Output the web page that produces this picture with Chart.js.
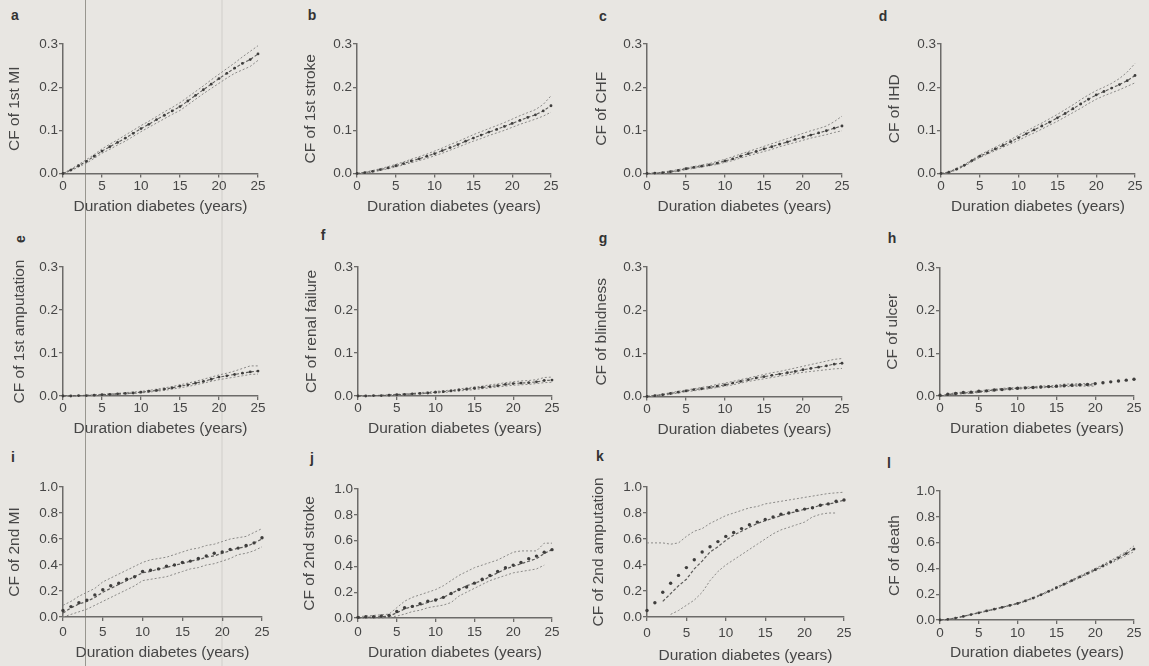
<!DOCTYPE html>
<html>
<head>
<meta charset="utf-8">
<script src="https://cdn.jsdelivr.net/npm/chart.js@4.4.0/dist/chart.umd.min.js"></script>
<style>
  body { margin: 0; width: 1149px; height: 666px; position: relative; overflow: hidden;
         background: #e8e6e2; font-family: "Liberation Sans", Arial, sans-serif; }
  canvas { position: absolute; }
  .lbl { position: absolute; font-weight: bold; font-size: 14px; color: #333; transform: translate(-50%, -50%); }
  .scan { position: absolute; top: 0; height: 666px; }
</style>
</head>
<body>
<div class="scan" style="left:85px;width:1px;background:#98968f"></div>
<div class="scan" style="left:221px;width:2px;background:#dcdad6"></div>
<script>
// x values (years since diagnosis) and axis labels
const years = [0,1,2,3,4,5,6,7,8,9,10,11,12,13,14,15,16,17,18,19,20,21,22,23,24,25];
const xTickLabels = ['0','5','10','15','20','25'];
const yTicksLow = ['0.0','0.1','0.2','0.3'];
const yTicksHigh = ['0.0','0.2','0.4','0.6','0.8','1.0'];
const xAxisTitle = 'Duration diabetes (years)';

// a - 1st MI
const aObs = [0,0.008,0.018,0.028,0.040,0.052,0.062,0.072,0.082,0.093,0.104,0.114,0.125,0.135,0.145,0.155,0.168,0.181,0.194,0.207,0.220,0.232,0.244,0.255,0.264,0.277];
const aUp  = [0,0.010,0.021,0.032,0.044,0.057,0.068,0.078,0.089,0.100,0.111,0.121,0.132,0.143,0.153,0.164,0.177,0.190,0.203,0.217,0.230,0.243,0.256,0.270,0.283,0.296];
const aLo  = [0,0.006,0.015,0.024,0.035,0.047,0.056,0.066,0.075,0.086,0.097,0.107,0.117,0.127,0.137,0.146,0.159,0.172,0.185,0.197,0.209,0.221,0.232,0.240,0.248,0.262];
// b - 1st stroke
const bObs = [0,0.002,0.005,0.009,0.013,0.018,0.023,0.029,0.034,0.040,0.046,0.053,0.060,0.067,0.075,0.082,0.089,0.096,0.102,0.109,0.116,0.123,0.130,0.136,0.145,0.157];
const bUp  = [0,0.003,0.007,0.011,0.016,0.021,0.027,0.033,0.039,0.045,0.052,0.059,0.067,0.074,0.082,0.090,0.097,0.104,0.111,0.118,0.126,0.134,0.141,0.148,0.160,0.180];
const bLo  = [0,0.001,0.003,0.007,0.011,0.015,0.020,0.025,0.030,0.035,0.041,0.047,0.054,0.061,0.068,0.075,0.081,0.088,0.094,0.100,0.107,0.114,0.120,0.126,0.133,0.142];
// c - CHF
const cObs = [0,0.001,0.002,0.004,0.007,0.011,0.014,0.017,0.020,0.024,0.029,0.034,0.040,0.046,0.051,0.057,0.062,0.068,0.073,0.079,0.084,0.089,0.094,0.099,0.105,0.110];
const cUp  = [0,0.001,0.003,0.006,0.009,0.013,0.016,0.020,0.023,0.028,0.033,0.039,0.045,0.051,0.057,0.063,0.069,0.075,0.081,0.087,0.093,0.099,0.104,0.110,0.120,0.133];
const cLo  = [0,0.000,0.001,0.003,0.005,0.009,0.012,0.015,0.018,0.021,0.026,0.030,0.036,0.041,0.046,0.051,0.056,0.062,0.067,0.072,0.077,0.082,0.086,0.090,0.095,0.099];
// d - IHD
const dObs = [0,0.003,0.010,0.019,0.030,0.040,0.048,0.057,0.065,0.074,0.083,0.092,0.101,0.110,0.119,0.129,0.139,0.150,0.161,0.172,0.182,0.190,0.198,0.206,0.215,0.227];
const dUp  = [0,0.004,0.012,0.021,0.032,0.043,0.052,0.061,0.070,0.079,0.089,0.098,0.108,0.117,0.127,0.137,0.148,0.159,0.171,0.182,0.192,0.200,0.209,0.220,0.235,0.255];
const dLo  = [0,0.002,0.008,0.017,0.027,0.037,0.045,0.053,0.061,0.069,0.077,0.086,0.094,0.103,0.112,0.121,0.131,0.141,0.151,0.162,0.172,0.180,0.187,0.194,0.202,0.210];
// e - 1st amputation
const eObs = [0,0.000,0.001,0.001,0.002,0.003,0.004,0.005,0.006,0.007,0.009,0.011,0.013,0.016,0.019,0.023,0.026,0.030,0.034,0.039,0.044,0.047,0.050,0.053,0.056,0.058];
const eUp  = [0,0.001,0.001,0.002,0.003,0.004,0.005,0.006,0.008,0.009,0.011,0.013,0.016,0.019,0.022,0.026,0.030,0.034,0.039,0.044,0.049,0.053,0.058,0.064,0.070,0.070];
const eLo  = [0,0.000,0.000,0.001,0.001,0.002,0.003,0.004,0.005,0.006,0.007,0.009,0.011,0.013,0.016,0.019,0.022,0.026,0.030,0.034,0.038,0.041,0.044,0.047,0.050,0.051];
// f - renal failure
const fObs = [0,0.000,0.001,0.001,0.002,0.003,0.004,0.005,0.006,0.007,0.009,0.010,0.012,0.014,0.016,0.018,0.020,0.022,0.024,0.027,0.029,0.030,0.031,0.033,0.036,0.037];
const fUp  = [0,0.001,0.001,0.002,0.003,0.004,0.005,0.006,0.008,0.009,0.011,0.012,0.014,0.016,0.019,0.021,0.023,0.026,0.028,0.031,0.033,0.035,0.036,0.038,0.043,0.044];
const fLo  = [0,0.000,0.000,0.001,0.001,0.002,0.003,0.004,0.005,0.006,0.007,0.008,0.010,0.012,0.013,0.015,0.017,0.019,0.021,0.023,0.025,0.026,0.027,0.029,0.031,0.032];
// g - blindness
const gObs = [0,0.002,0.004,0.007,0.010,0.013,0.016,0.018,0.021,0.024,0.027,0.031,0.035,0.039,0.043,0.046,0.049,0.052,0.055,0.058,0.062,0.065,0.068,0.071,0.075,0.077];
const gUp  = [0,0.003,0.005,0.009,0.012,0.015,0.018,0.021,0.024,0.028,0.031,0.035,0.039,0.043,0.047,0.051,0.055,0.058,0.062,0.066,0.070,0.074,0.078,0.082,0.086,0.088];
const gLo  = [0,0.001,0.003,0.005,0.008,0.011,0.013,0.016,0.018,0.021,0.024,0.027,0.031,0.035,0.038,0.041,0.044,0.047,0.050,0.053,0.056,0.058,0.060,0.062,0.064,0.065];
// h - ulcer (observed stops at 20 years, model dots go on)
const hObs  = [0,0.003,0.006,0.007,0.008,0.010,0.012,0.014,0.016,0.017,0.018,0.019,0.020,0.021,0.022,0.022,0.025,0.025,0.026,0.026,0.026];
const hUp   = [0,0.004,0.008,0.009,0.010,0.012,0.014,0.016,0.018,0.019,0.020,0.021,0.022,0.023,0.024,0.025,0.028,0.028,0.029,0.029,0.029];
const hLo   = [0,0.002,0.004,0.005,0.006,0.008,0.010,0.012,0.014,0.015,0.016,0.017,0.018,0.019,0.020,0.020,0.022,0.022,0.023,0.023,0.023];
const hPred = [0.002,0.004,0.006,0.008,0.009,0.011,0.012,0.014,0.015,0.017,0.018,0.019,0.020,0.021,0.022,0.023,0.024,0.025,0.026,0.027,0.029,0.031,0.033,0.035,0.037,0.039];
// i - 2nd MI
const iObs  = [0.03,0.07,0.10,0.12,0.15,0.19,0.22,0.25,0.28,0.31,0.34,0.35,0.37,0.38,0.40,0.41,0.43,0.44,0.46,0.47,0.49,0.51,0.53,0.54,0.57,0.60];
const iUp   = [0.09,0.12,0.16,0.19,0.22,0.27,0.30,0.33,0.36,0.39,0.42,0.44,0.45,0.46,0.48,0.50,0.52,0.53,0.55,0.56,0.58,0.60,0.61,0.62,0.65,0.68];
const iLo   = [0.00,0.02,0.04,0.06,0.09,0.12,0.15,0.18,0.21,0.24,0.28,0.29,0.30,0.31,0.33,0.35,0.37,0.38,0.40,0.41,0.43,0.45,0.48,0.49,0.51,0.54];
const iPred = [0.05,0.08,0.11,0.13,0.17,0.21,0.24,0.26,0.29,0.31,0.35,0.36,0.37,0.39,0.40,0.42,0.43,0.45,0.47,0.49,0.50,0.52,0.53,0.55,0.57,0.61];
// j - 2nd stroke
const jObs  = [0,0.005,0.008,0.010,0.015,0.04,0.07,0.09,0.10,0.12,0.14,0.16,0.19,0.22,0.25,0.27,0.29,0.32,0.35,0.38,0.40,0.42,0.44,0.46,0.50,0.53];
const jUp   = [0.01,0.015,0.02,0.025,0.03,0.08,0.13,0.16,0.18,0.20,0.22,0.25,0.29,0.33,0.36,0.39,0.41,0.43,0.45,0.48,0.51,0.52,0.52,0.52,0.58,0.58];
const jLo   = [0,0,0,0,0.005,0.015,0.03,0.05,0.06,0.08,0.09,0.10,0.12,0.17,0.20,0.23,0.26,0.29,0.31,0.33,0.35,0.36,0.37,0.38,0.41,null];
const jPred = [0.005,0.01,0.01,0.015,0.02,0.05,0.08,0.09,0.11,0.13,0.14,0.16,0.19,0.22,0.24,0.27,0.30,0.33,0.36,0.39,0.41,0.43,0.46,0.48,0.51,0.53];
// k - 2nd amputation
const kObs  = [null,null,0.12,0.18,0.24,0.29,0.37,0.43,0.50,0.54,0.59,0.63,0.66,0.69,0.72,0.74,0.76,0.78,0.80,0.81,0.83,0.84,0.86,0.87,0.88,0.90];
const kUp   = [0.57,0.57,0.57,0.56,0.57,0.62,0.66,0.68,0.72,0.75,0.78,0.80,0.82,0.84,0.85,0.87,0.88,0.89,0.90,0.91,0.92,0.93,0.94,0.95,0.955,0.96];
const kLo   = [null,null,null,0.02,0.05,0.09,0.13,0.19,0.28,0.35,0.40,0.44,0.48,0.52,0.56,0.60,0.64,0.67,0.69,0.71,0.73,0.77,0.79,0.80,0.80,null];
const kPred = [0.05,0.11,0.19,0.26,0.32,0.38,0.44,0.50,0.54,0.58,0.62,0.65,0.68,0.71,0.73,0.75,0.77,0.79,0.80,0.82,0.83,0.84,0.86,0.87,0.89,0.90];
// l - death
const lObs = [0,0.005,0.015,0.028,0.042,0.056,0.070,0.084,0.098,0.113,0.128,0.148,0.170,0.195,0.222,0.250,0.278,0.306,0.334,0.362,0.390,0.420,0.450,0.482,0.515,0.550];
const lUp  = [0,0.006,0.017,0.030,0.044,0.059,0.073,0.087,0.102,0.117,0.132,0.153,0.175,0.200,0.228,0.256,0.285,0.313,0.342,0.370,0.399,0.430,0.462,0.495,0.530,0.575];
const lLo  = [0,0.004,0.013,0.026,0.040,0.053,0.067,0.081,0.094,0.109,0.124,0.143,0.165,0.190,0.216,0.244,0.271,0.299,0.326,0.354,0.381,0.410,0.439,0.470,0.500,0.530];

Chart.defaults.font.family = "'Liberation Sans', Arial, sans-serif";

const axisCol = '#6c6b69';
const textCol = '#464646';
const tickSize = 13.5;
const titleSize = 15.5;
const tickHalf = tickSize * 1.2 / 2;
const titleHalf = titleSize * 1.2 / 2;

// page layout of each panel: plot box (l,r,t,b), y-title centre (tx), x-title offset (xt),
// x tick label offset (xl), letter position (lx, ly)
const panels = [
  { id: 'a', title: 'CF of 1st MI',         l: 63,  r: 258, t: 44,  b: 173.5, tx: 15,  xt: 33, xl: 13,   hi: false, lx: 15,  ly: 15,  s: [['ci', aUp], ['ci', aLo], ['dots', aObs]] },
  { id: 'b', title: 'CF of 1st stroke',     l: 357, r: 551, t: 44,  b: 173.5, tx: 311, xt: 33, xl: 13,   hi: false, lx: 312, ly: 15,  s: [['ci', bUp], ['ci', bLo], ['dots', bObs]] },
  { id: 'c', title: 'CF of CHF',            l: 647, r: 842, t: 44,  b: 173.5, tx: 602, xt: 33, xl: 13,   hi: false, lx: 603, ly: 16,  s: [['ci', cUp], ['ci', cLo], ['dots', cObs]] },
  { id: 'd', title: 'CF of IHD',            l: 941, r: 1135, t: 44, b: 173.5, tx: 895, xt: 33, xl: 13,   hi: false, lx: 883, ly: 16,  s: [['ci', dUp], ['ci', dLo], ['dots', dObs]] },
  { id: 'e', title: 'CF of 1st amputation', l: 63,  r: 258, t: 267, b: 396,   tx: 20,  xt: 33, xl: 12.5, hi: false, lx: 20,  ly: 239, rot: true, s: [['ci', eUp], ['ci', eLo], ['dots', eObs]] },
  { id: 'f', title: 'CF of renal failure',  l: 358, r: 552, t: 267, b: 396,   tx: 312, xt: 33, xl: 12.5, hi: false, lx: 323, ly: 235, s: [['ci', fUp], ['ci', fLo], ['dots', fObs]] },
  { id: 'g', title: 'CF of blindness',      l: 647, r: 842, t: 267, b: 396.5, tx: 602, xt: 33, xl: 12.5, hi: false, lx: 603, ly: 238, s: [['ci', gUp], ['ci', gLo], ['dots', gObs]] },
  { id: 'h', title: 'CF of ulcer',          l: 940, r: 1134, t: 267.5, b: 396, tx: 893, xt: 33, xl: 12.5, hi: false, lx: 892, ly: 238, s: [['ci', hUp], ['ci', hLo], ['line', hObs], ['pts', hPred]] },
  { id: 'i', title: 'CF of 2nd MI',         l: 63,  r: 262, t: 487, b: 617,   tx: 15,  xt: 36, xl: 15.5, hi: true,  lx: 13,  ly: 457, s: [['ci', iUp], ['ci', iLo], ['line', iObs], ['pts', iPred]] },
  { id: 'j', title: 'CF of 2nd stroke',     l: 358, r: 552, t: 489, b: 618,   tx: 310, xt: 35, xl: 14.5, hi: true,  lx: 312, ly: 458, s: [['ci', jUp], ['ci', jLo], ['line', jObs], ['pts', jPred]] },
  { id: 'k', title: 'CF of 2nd amputation', l: 647, r: 844, t: 487, b: 617,   tx: 599, xt: 39, xl: 16,   hi: true,  lx: 600, ly: 456, s: [['ci', kUp], ['ci', kLo], ['line', kObs], ['pts', kPred]] },
  { id: 'l', title: 'CF of death',          l: 940, r: 1134, t: 491, b: 620,  tx: 895, xt: 33, xl: 13,   hi: true,  lx: 889, ly: 463, s: [['ci', lUp], ['ci', lLo], ['dots', lObs]] }
];

function toPoints(values) {
  return values.map((v, i) => ({ x: years[i], y: v }));
}

function makeDataset(kind, values) {
  const base = { data: toPoints(values), clip: false, fill: false, tension: 0, spanGaps: false };
  if (kind === 'ci') {
    return Object.assign(base, { borderColor: '#8a8987', borderWidth: 1, borderDash: [2, 2], pointRadius: 0 });
  }
  if (kind === 'line') {
    return Object.assign(base, { borderColor: '#5c5b59', borderWidth: 1.2, borderDash: [3, 2], pointRadius: 0 });
  }
  if (kind === 'dots') {
    return Object.assign(base, { borderColor: '#5c5b59', borderWidth: 1.1, borderDash: [3, 2], pointRadius: 1.4,
      pointBackgroundColor: '#3e3d3c', pointBorderWidth: 0 });
  }
  // model prediction: dots only
  return Object.assign(base, { showLine: false, pointRadius: 1.7, pointBackgroundColor: '#3e3d3c', pointBorderWidth: 0 });
}

function makePanel(p) {
  const left = Math.round(p.tx - 12);
  const top = Math.round(p.t - 10);
  const w = Math.ceil(p.r + 14 - left);
  const h = Math.ceil(p.b + p.xt + titleHalf + 1 - top);
  const yw = p.l - left;
  const xh = h - (p.b - top);

  const cv = document.createElement('canvas');
  cv.width = w; cv.height = h;
  cv.style.left = left + 'px'; cv.style.top = top + 'px';
  cv.style.width = w + 'px'; cv.style.height = h + 'px';
  document.body.appendChild(cv);

  const lbl = document.createElement('div');
  lbl.className = 'lbl';
  lbl.textContent = p.id;
  lbl.style.left = p.lx + 'px'; lbl.style.top = p.ly + 'px';
  if (p.rot) lbl.style.transform = 'translate(-50%, -50%) rotate(-90deg)';
  document.body.appendChild(lbl);

  const yLabels = p.hi ? yTicksHigh : yTicksLow;
  const titleFont = { size: titleSize, lineHeight: 1.2 };

  // points drawn last so they sit on top
  const datasets = p.s.map(s => makeDataset(s[0], s[1])).reverse();

  new Chart(cv, {
    type: 'line',
    data: { datasets: datasets },
    options: {
      responsive: false,
      animation: false,
      devicePixelRatio: 1,
      layout: { padding: { left: 0, top: p.t - top, right: w - (p.r - left), bottom: 0 } },
      plugins: { legend: { display: false }, tooltip: { enabled: false } },
      scales: {
        x: {
          type: 'linear', min: 0, max: 25,
          ticks: { stepSize: 5, color: textCol, font: { size: tickSize }, padding: Math.max(0, p.xl - 4 - tickHalf), maxRotation: 0,
                   callback: (v, i) => xTickLabels[i] },
          grid: { display: true, drawOnChartArea: false, drawTicks: true, tickLength: 4, color: axisCol, lineWidth: 1.3 },
          border: { display: true, color: axisCol, width: 1.5 },
          title: { display: true, text: xAxisTitle, color: textCol, font: titleFont,
                   padding: { top: 0, bottom: h - titleHalf - (p.b + p.xt - top) } },
          afterFit: s => { s.height = xh; s.paddingLeft = 0; s.paddingRight = 0; s.paddingTop = 0; s.paddingBottom = 0; }
        },
        y: {
          type: 'linear', min: 0, max: p.hi ? 1 : 0.3,
          ticks: { stepSize: p.hi ? 0.2 : 0.1, color: textCol, font: { size: tickSize }, padding: 1,
                   callback: (v, i) => yLabels[i] },
          grid: { display: true, drawOnChartArea: false, drawTicks: true, tickLength: 4, color: axisCol, lineWidth: 1.3 },
          border: { display: true, color: axisCol, width: 1.5 },
          title: { display: true, text: p.title, color: textCol, font: titleFont,
                   padding: { top: p.tx - left - titleHalf, bottom: 0 } },
          afterFit: s => { s.width = yw; s.paddingLeft = 0; s.paddingRight = 0; s.paddingTop = 0; s.paddingBottom = 0; }
        }
      }
    }
  });
}

panels.forEach(makePanel);
</script>
</body>
</html>
